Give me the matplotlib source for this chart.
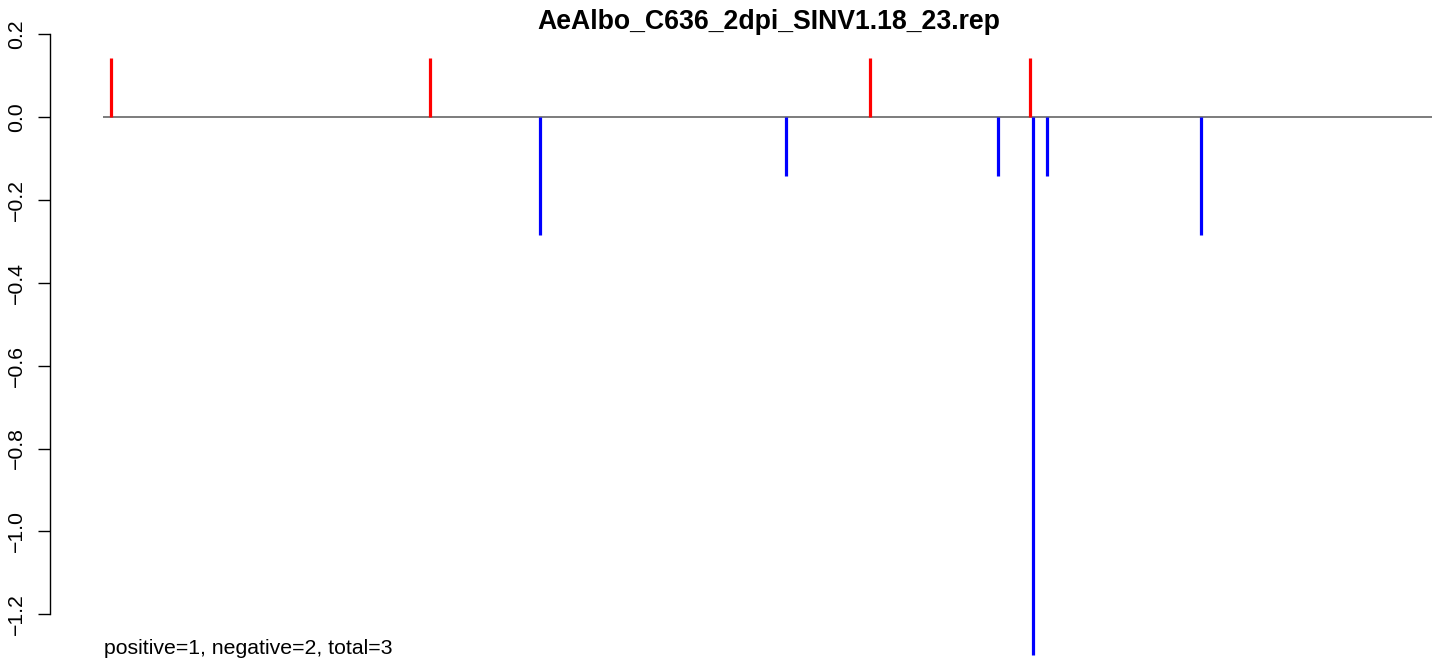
import matplotlib
matplotlib.use("Agg")
import matplotlib.pyplot as plt

plt.rcParams['font.family'] = ['Liberation Sans', 'DejaVu Sans']

title = "AeAlbo_C636_2dpi_SINV1.18_23.rep"
genome_len = 11703
pos_positions = [66, 2876, 6752, 8162]
pos_values = [0.1429, 0.1429, 0.1429, 0.1429]
neg_positions = [3845, 6012, 7880, 8188, 8311, 9668]
neg_values = [-0.2857, -0.1429, -0.1429, -1.297, -0.1429, -0.2857]
yticks = [0.2, 0.0, -0.2, -0.4, -0.6, -0.8, -1.0, -1.2]
ytick_labels = ["0.2", "0.0", "\u22120.2", "\u22120.4", "\u22120.6", "\u22120.8", "\u22121.0", "\u22121.2"]
summary = "positive=1, negative=2, total=3"

W, H = 1439, 661
fig = plt.figure(figsize=(W / 100, H / 100), dpi=100)
left_px, right_px, top_px, bottom_px = 103.5, 1432, 34, 661
ax = fig.add_axes([left_px / W, (H - bottom_px) / H, (right_px - left_px) / W, (bottom_px - top_px) / H])
px_per_unit = 414.5
ax.set_ylim(0.2 - (bottom_px - top_px) / px_per_unit, 0.2)
ax.set_xlim(0, genome_len)

ax.axhline(0, color="#666666", lw=1.2, zorder=1)
ax.vlines(pos_positions, 0, pos_values, colors="#ff0000", lw=2.3, zorder=2, clip_on=False)
ax.vlines(neg_positions, 0, neg_values, colors="#0000ff", lw=2.3, zorder=2, clip_on=False)

for s in ["top", "right", "bottom"]:
    ax.spines[s].set_visible(False)
ax.spines["left"].set_position(("outward", 53.5 * 0.72))
ax.spines["left"].set_bounds(-1.2, 0.2)
ax.spines["left"].set_linewidth(1.0)
ax.set_yticks(yticks)
ax.set_yticklabels(ytick_labels, rotation=90, va="center", fontsize=15.3)
ax.tick_params(axis="y", length=12 * 0.72, width=1.0, pad=8.5)
ax.set_xticks([])

fig.text(768.5 / W, 1 - 22 / H, title, fontsize=19.2, fontweight="bold", ha="center", va="center")

fig.text(104 / W, 1 - 649 / H, summary, fontsize=15.3, ha="left", va="center")

fig.savefig("out.png", dpi=100)
